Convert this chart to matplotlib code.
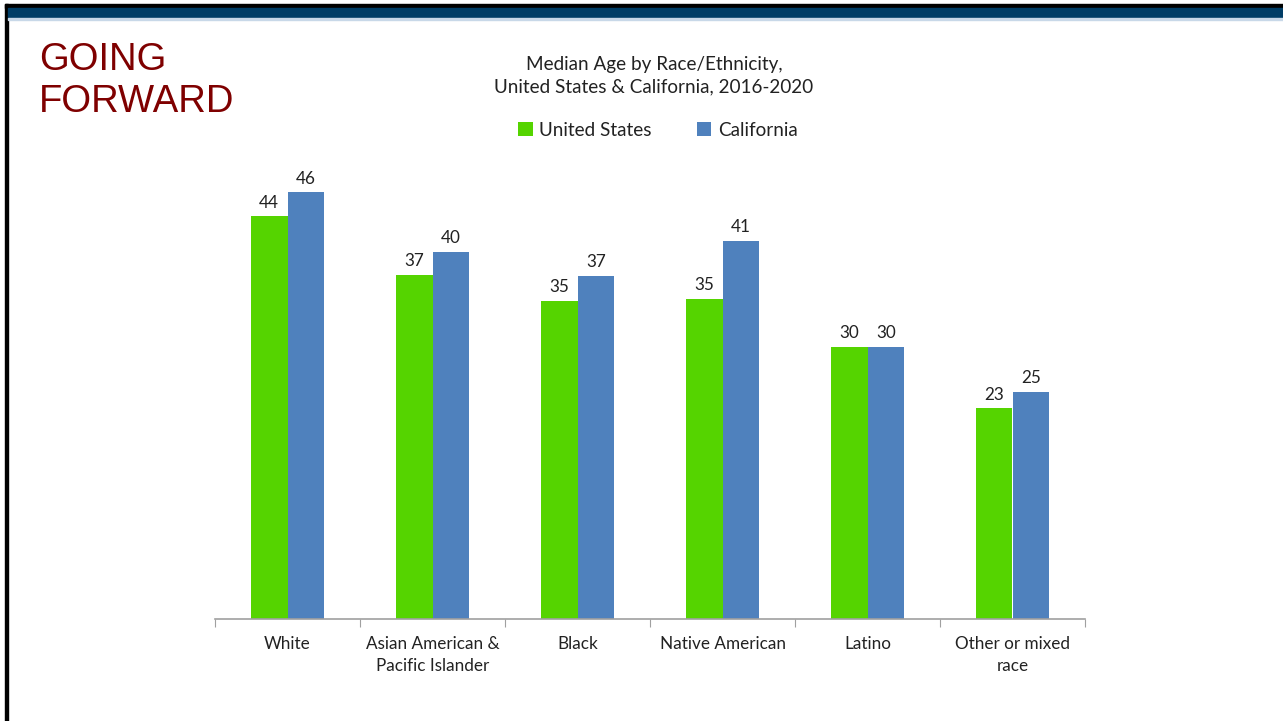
import matplotlib
matplotlib.use("Agg")
import matplotlib.pyplot as plt
import numpy as np
from matplotlib.patches import Rectangle

categories = ["White", "Asian American &\nPacific Islander", "Black", "Native American", "Latino", "Other or mixed\nrace"]
us_values = [43.8, 37.4, 34.6, 34.8, 29.6, 22.9]
ca_values = [46.4, 39.9, 37.3, 41.1, 29.6, 24.7]
series_names = ["United States", "California"]

GREEN = "#55D400"
BLUE = "#4F81BD"
FONT = ["Lato", "DejaVu Sans"]

fig = plt.figure(figsize=(12.83, 7.21), dpi=100)
W, H = 1283, 721

def fx(px):
    return px / W

def fy(py):
    return 1 - py / H

# frame decorations
fig.patches.append(Rectangle((fx(5), fy(8)), fx(1283 - 5), 4 / H, transform=fig.transFigure, color="black", zorder=5))
fig.patches.append(Rectangle((fx(5), 0), 3 / W, fy(4), transform=fig.transFigure, color="black", zorder=5))
fig.patches.append(Rectangle((fx(8), fy(18)), fx(1283 - 8), 10 / H, transform=fig.transFigure, color="#003D66", zorder=5))
fig.patches.append(Rectangle((fx(8), fy(19.5)), fx(1283 - 8), 1.5 / H, transform=fig.transFigure, color="#C8D8E8", zorder=5))

fig.text(fx(39), fy(81), "GOING\nFORWARD", family=["Liberation Sans", "DejaVu Sans"], fontsize=27.5,
         color="#7F0000", va="center", ha="left", linespacing=1.25)

ax = fig.add_axes([fx(215), fy(619), 870 / W, 460 / H])
x = np.arange(len(categories))
bw = 0.255
b1 = ax.bar(x - bw / 2, us_values, bw, color=GREEN, label=series_names[0])
b2 = ax.bar(x + bw / 2, ca_values, bw, color=BLUE, label=series_names[1])
for bars, vals in ((b1, us_values), (b2, ca_values)):
    for r, v in zip(bars, vals):
        ax.text(r.get_x() + r.get_width() / 2, v + 0.6, f"{v:.0f}", ha="center", va="bottom",
                family=FONT, fontsize=12.3, color="#222222")

ax.set_xlim(-0.5, len(categories) - 0.5)
ax.set_ylim(0, 50)
ax.set_yticks([])
for s in ["top", "right", "left"]:
    ax.spines[s].set_visible(False)
ax.spines["bottom"].set_color("#A0A0A0")
ax.spines["bottom"].set_linewidth(1.2)
ax.set_xticks(np.arange(len(categories) + 1) - 0.5, minor=False)
ax.set_xticklabels([])
ax.tick_params(axis="x", which="major", length=6, color="#A0A0A0", direction="out")
for i, c in enumerate(categories):
    ax.text(i, -0.038, c, transform=ax.get_xaxis_transform(), ha="center", va="top",
            family=FONT, fontsize=12.3, color="#222222", linespacing=1.4)

fig.text(fx(654), fy(76), "Median Age by Race/Ethnicity,\nUnited States & California, 2016-2020",
         ha="center", va="center", family=FONT, fontsize=13.6, color="#222222", linespacing=1.4)

leg = fig.legend(handles=[b1, b2], labels=series_names, loc="center", bbox_to_anchor=(fx(658), fy(130)),
                 ncol=2, frameon=False, prop={"family": FONT, "size": 13.6}, handlelength=0.75,
                 handleheight=0.75, handletextpad=0.35, columnspacing=2.4)
for t in leg.get_texts():
    t.set_color("#222222")

fig.savefig("out.png", dpi=100)
